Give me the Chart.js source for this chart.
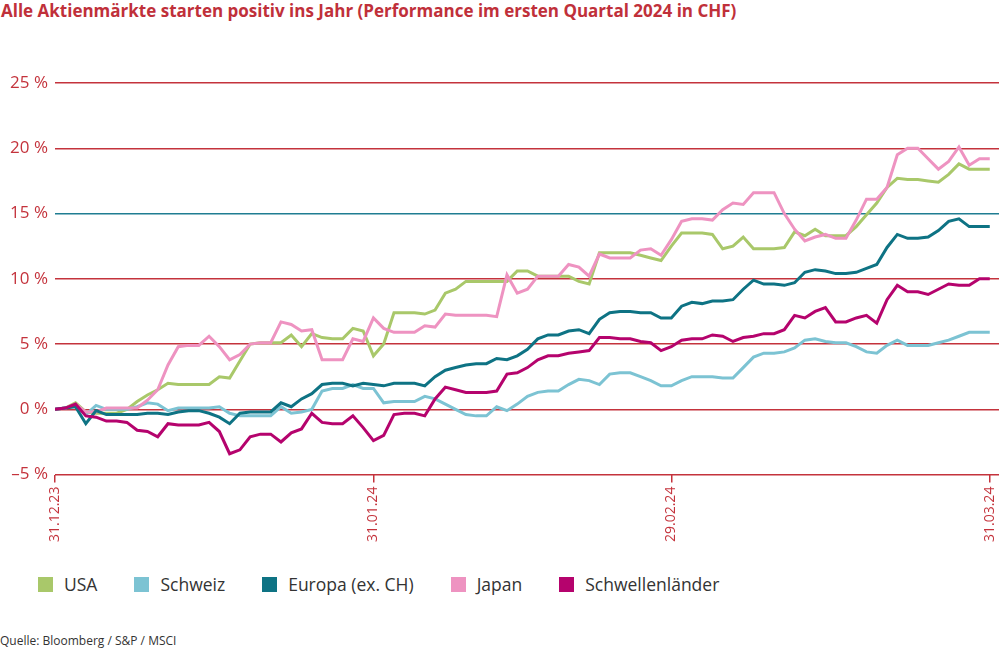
<!DOCTYPE html>
<html lang="de">
<head>
<meta charset="utf-8">
<title>Aktienmärkte Q1 2024</title>
<script src="https://cdn.jsdelivr.net/npm/chart.js@4.4.1/dist/chart.umd.min.js"></script>
<style>
  html, body { margin: 0; padding: 0; background: #fff; }
  body { width: 999px; height: 650px; position: relative; overflow: hidden; font-family: "Open Sans", sans-serif; }
  #title { position: absolute; left: 1px; top: -1px; font-size: 17px; font-weight: 700; color: #c0303a; white-space: nowrap; }
  #chartBox { position: absolute; left: 0; top: 0; width: 999px; height: 560px; }
  #legend { position: absolute; left: 38px; top: 572px; display: flex; font-size: 17.5px; color: #333; }
  #legend .item { display: flex; align-items: center; margin-right: 37px; }
  #legend .box { width: 15px; height: 15px; margin-right: 11px; }
  #source { position: absolute; left: 0; top: 632px; font-size: 12px; color: #333; }
</style>
</head>
<body>
<div id="title">Alle Aktienmärkte starten positiv ins Jahr (Performance im ersten Quartal 2024 in CHF)</div>
<div id="chartBox"><canvas id="lineChart"></canvas></div>
<div id="legend"></div>
<div id="source">Quelle: Bloomberg / S&amp;P / MSCI</div>
<script>
// Performance in % seit 31.12.23, ein Wert pro Kalendertag (Tag 0 = 31.12.23)
const usa = [0, 0.1, 0.5, -0.2, -0.3, -0.3, -0.3, 0, 0.6, 1.1, 1.5, 2.0, 1.9, 1.9, 1.9, 1.9, 2.5, 2.4, 3.7, 5.0,
  5.1, 5.1, 5.1, 5.7, 4.8, 5.8, 5.5, 5.4, 5.4, 6.2, 6.0, 4.1, 5.0, 7.4, 7.4, 7.4, 7.3, 7.6, 8.9, 9.2,
  9.8, 9.8, 9.8, 9.8, 9.8, 10.6, 10.6, 10.2, 10.2, 10.2, 10.2, 9.8, 9.6, 12.0, 12.0, 12.0, 12.0, 11.8, 11.6, 11.4,
  12.5, 13.5, 13.5, 13.5, 13.4, 12.3, 12.5, 13.2, 12.3, 12.3, 12.3, 12.4, 13.6, 13.3, 13.8, 13.3, 13.3, 13.3, 14.0, 14.9,
  15.8, 17.0, 17.7, 17.6, 17.6, 17.5, 17.4, 18.0, 18.8, 18.4, 18.4, 18.4];
const schweiz = [0, 0.1, 0.3, -0.4, 0.3, 0, 0, 0, 0.2, 0.5, 0.4, -0.1, 0.1, 0.1, 0.1, 0.1, 0.2, -0.3, -0.5, -0.5,
  -0.5, -0.5, 0.2, -0.3, -0.2, 0, 1.4, 1.6, 1.6, 1.9, 1.6, 1.6, 0.5, 0.6, 0.6, 0.6, 1.0, 0.8, 0.4, 0.0,
  -0.4, -0.5, -0.5, 0.2, -0.1, 0.4, 1.0, 1.3, 1.4, 1.4, 1.9, 2.3, 2.2, 1.9, 2.7, 2.8, 2.8, 2.5, 2.2, 1.8,
  1.8, 2.2, 2.5, 2.5, 2.5, 2.4, 2.4, 3.2, 4.0, 4.3, 4.3, 4.4, 4.7, 5.3, 5.4, 5.2, 5.1, 5.1, 4.8, 4.4,
  4.3, 4.9, 5.3, 4.9, 4.9, 4.9, 5.1, 5.3, 5.6, 5.9, 5.9, 5.9];
const europa = [0, 0.1, 0.2, -1.1, -0.1, -0.4, -0.4, -0.4, -0.4, -0.3, -0.3, -0.4, -0.2, -0.1, -0.1, -0.3, -0.6, -1.1, -0.3, -0.2,
  -0.2, -0.2, 0.5, 0.2, 0.8, 1.2, 1.9, 2.0, 2.0, 1.8, 2.0, 1.9, 1.8, 2.0, 2.0, 2.0, 1.8, 2.5, 3.0, 3.2,
  3.4, 3.5, 3.5, 3.9, 3.8, 4.1, 4.6, 5.4, 5.7, 5.7, 6.0, 6.1, 5.8, 6.9, 7.4, 7.5, 7.5, 7.4, 7.4, 7.0,
  7.0, 7.9, 8.2, 8.1, 8.3, 8.3, 8.4, 9.2, 9.9, 9.6, 9.6, 9.5, 9.7, 10.5, 10.7, 10.6, 10.4, 10.4, 10.5, 10.8,
  11.1, 12.4, 13.4, 13.1, 13.1, 13.2, 13.7, 14.4, 14.6, 14.0, 14.0, 14.0];
const japan = [0, 0.1, 0.4, -0.2, -0.2, 0.1, 0.1, 0.1, 0.1, 0.7, 1.5, 3.4, 4.8, 4.9, 4.9, 5.6, 4.8, 3.8, 4.2, 5.0,
  5.1, 5.1, 6.7, 6.5, 6.0, 6.1, 3.8, 3.8, 3.8, 5.4, 5.2, 7.0, 6.2, 5.9, 5.9, 5.9, 6.4, 6.3, 7.3, 7.2,
  7.2, 7.2, 7.2, 7.1, 10.3, 8.9, 9.2, 10.2, 10.2, 10.2, 11.1, 10.9, 10.2, 11.9, 11.6, 11.6, 11.6, 12.2, 12.3, 11.8,
  13.0, 14.4, 14.6, 14.6, 14.5, 15.3, 15.8, 15.7, 16.6, 16.6, 16.6, 15.0, 13.8, 12.9, 13.2, 13.4, 13.1, 13.1, 14.5, 16.1,
  16.1, 17.0, 19.5, 20.0, 20.0, 19.2, 18.4, 19.0, 20.1, 18.7, 19.2, 19.2];
const schwellen = [0, 0.1, 0.4, -0.5, -0.6, -0.9, -0.9, -1.0, -1.6, -1.7, -2.1, -1.1, -1.2, -1.2, -1.2, -1.0, -1.7, -3.4, -3.1, -2.1,
  -1.9, -1.9, -2.5, -1.8, -1.5, -0.3, -1.0, -1.1, -1.1, -0.5, -1.4, -2.4, -2.0, -0.4, -0.3, -0.3, -0.5, 0.8, 1.7, 1.5,
  1.3, 1.3, 1.3, 1.4, 2.7, 2.8, 3.2, 3.8, 4.1, 4.1, 4.3, 4.4, 4.5, 5.5, 5.5, 5.4, 5.4, 5.2, 5.1, 4.5,
  4.8, 5.3, 5.4, 5.4, 5.7, 5.6, 5.2, 5.5, 5.6, 5.8, 5.8, 6.1, 7.2, 7.0, 7.5, 7.8, 6.7, 6.7, 7.0, 7.2,
  6.6, 8.4, 9.5, 9.0, 9.0, 8.8, 9.2, 9.6, 9.5, 9.5, 10.0, 10.0];

const seriesNames = ['USA', 'Schweiz', 'Europa (ex. CH)', 'Japan', 'Schwellenländer'];
const seriesColors = ['#a9c86a', '#7cc3d3', '#0e7384', '#ee93c1', '#b5036d'];
const seriesValues = [usa, schweiz, europa, japan, schwellen];
const drawOrder = [4, 3, 1, 2, 0];

const tickDays = [0, 31, 60, 91];
const tickLabels = ['31.12.23', '31.01.24', '29.02.24', '31.03.24'];
const dayIndex = usa.map((v, i) => i);

const red = '#c4333c';
const teal = '#1f7d92';

const datasets = seriesNames.map((name, i) => ({
  label: name,
  data: seriesValues[i],
  borderColor: seriesColors[i],
  backgroundColor: seriesColors[i],
  borderWidth: 3,
  pointRadius: 0,
  tension: 0,
  order: drawOrder[i]
}));

new Chart(document.getElementById('lineChart'), {
  type: 'line',
  data: { labels: dayIndex, datasets: datasets },
  options: {
    responsive: true,
    maintainAspectRatio: false,
    animation: false,
    layout: { padding: { top: 83, right: 0, bottom: 14, left: 0 } },
    plugins: {
      legend: { display: false },
      tooltip: { enabled: false }
    },
    scales: {
      x: {
        type: 'linear',
        min: 0,
        max: 91.9,
        afterBuildTicks: axis => { axis.ticks = tickDays.map(v => ({ value: v })); },
        // the last date label sits inside the plot, so no extra room on the right
        afterFit: axis => { axis.paddingRight = 0; axis.paddingLeft = 0; },
        border: { display: false },
        grid: { drawOnChartArea: false, drawTicks: true, tickLength: 8, color: red, lineWidth: 1.5 },
        ticks: {
          autoSkip: false,
          minRotation: 90,
          maxRotation: 90,
          padding: 4,
          color: red,
          font: { family: 'Open Sans', size: 14 },
          callback: value => tickLabels[tickDays.indexOf(value)]
        }
      },
      y: {
        min: -5,
        max: 25,
        afterFit: axis => { axis.width = 55; },
        border: { display: false },
        grid: {
          drawTicks: false,
          lineWidth: 1.5,
          color: ctx => (ctx.tick && ctx.tick.value === 15 ? teal : red)
        },
        ticks: {
          stepSize: 5,
          padding: 7,
          color: red,
          font: { family: 'Open Sans', size: 17 },
          callback: value => (value < 0 ? '\u2013' + Math.abs(value) : value) + ' %'
        }
      }
    }
  }
});

const legend = document.getElementById('legend');
seriesNames.forEach((name, i) => {
  const item = document.createElement('div');
  item.className = 'item';
  item.innerHTML = '<span class="box" style="background:' + seriesColors[i] + '"></span><span>' + name + '</span>';
  legend.appendChild(item);
});
</script>
</body>
</html>
